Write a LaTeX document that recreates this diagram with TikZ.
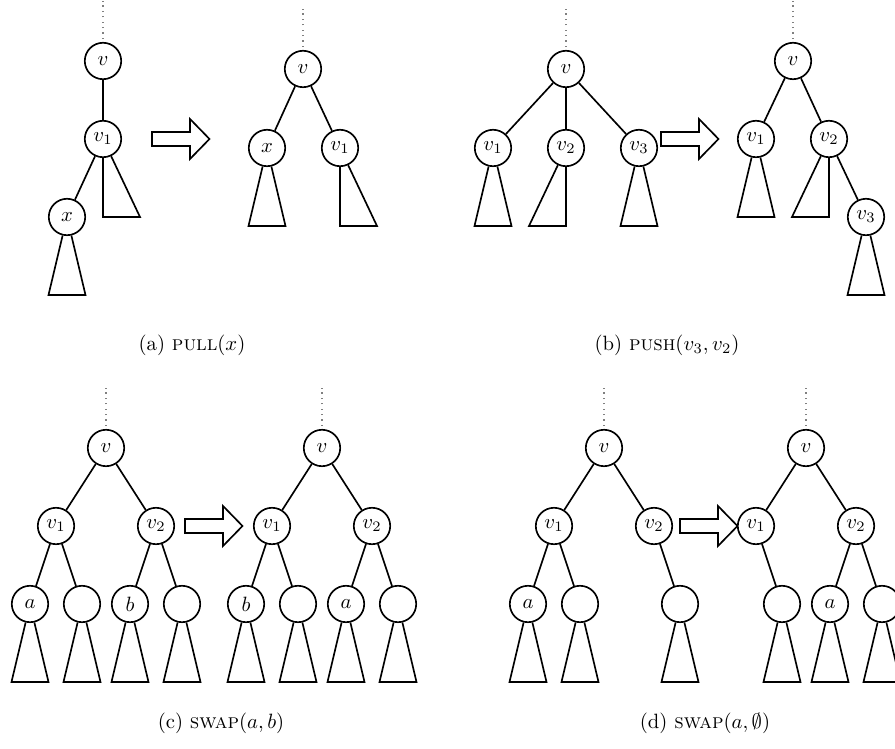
\documentclass[tikz,border=0pt]{standalone}
\usetikzlibrary{calc}

% subtrees hanging below a vertex
\newcommand\isotree[1]{\draw[tedge] (#1) -- ($(#1)+(-18.5,78)$) -- ($(#1)+(18.5,78)$) -- (#1);}
\newcommand\rtree[1]{\draw[tedge] (#1) -- ($(#1)+(0,78)$) -- ($(#1)+(37,78)$) -- (#1);}
\newcommand\ltree[1]{\draw[tedge] (#1) -- ($(#1)+(0,78)$) -- ($(#1)+(-37,78)$) -- (#1);}
% dotted link to the rest of the tree above a vertex
\newcommand\uplink[1]{\coordinate (#1-up) at ($(#1.north)+(0,-41)$);
  \draw[updots] ($(#1.north)+(0,-3)$) -- (#1-up);}
% hollow block arrow, #1,#2 = left end of the shaft
\newcommand\fatarrow[2]{\draw[tedge] (#1,#2) ++(0,-7) -- ++(38,0) -- ++(0,-13)
  -- ++(19.5,20) -- ++(-19.5,20) -- ++(0,-13) -- ++(-38,0) -- cycle;}

\begin{document}
\begin{tikzpicture}[x=0.4832pt,y=-0.4832pt,
  tn/.style={circle,draw,fill=white,minimum size=17.6pt,inner sep=0pt,line width=0.8pt},
  tedge/.style={line width=0.8pt,line join=miter},
  updots/.style={dotted,gray,line width=0.6pt},
  captext/.style={inner sep=0pt}]
\path[use as bounding box] (0,0) rectangle (895,749);
\clip (0,0) rectangle (895,749);

% ---------- (a) pull(x) ----------
\node[tn] (a1v)  at (103,61)  {$v$};
\node[tn] (a1v1) at (103,139) {$v_1$};
\node[tn] (a1x)  at (67,217)  {$x$};
\uplink{a1v}
\draw[tedge] (a1v) -- (a1v1);
\draw[tedge] (a1v1) -- (a1x);
\isotree{a1x}
\rtree{a1v1}

\fatarrow{152}{139}

\node[tn] (a2v)  at (303,69)  {$v$};
\node[tn] (a2x)  at (267,148) {$x$};
\node[tn] (a2v1) at (340,148) {$v_1$};
\uplink{a2v}
\draw[tedge] (a2v) -- (a2x);
\draw[tedge] (a2v) -- (a2v1);
\isotree{a2x}
\rtree{a2v1}

\node[captext] (capa) at (192,345) {(a) \textsc{pull}($x$)};

% ---------- (b) push(v3,v2) ----------
\node[tn] (b1v)  at (566,69)  {$v$};
\node[tn] (b1v1) at (493,148) {$v_1$};
\node[tn] (b1v2) at (566,148) {$v_2$};
\node[tn] (b1v3) at (639,148) {$v_3$};
\uplink{b1v}
\draw[tedge] (b1v) -- (b1v1);
\draw[tedge] (b1v) -- (b1v2);
\draw[tedge] (b1v) -- (b1v3);
\isotree{b1v1}
\ltree{b1v2}
\isotree{b1v3}

\fatarrow{661}{139}

\node[tn] (b2v)  at (793,61)  {$v$};
\node[tn] (b2v1) at (756,139) {$v_1$};
\node[tn] (b2v2) at (829,139) {$v_2$};
\node[tn] (b2v3) at (866,217) {$v_3$};
\uplink{b2v}
\draw[tedge] (b2v) -- (b2v1);
\draw[tedge] (b2v) -- (b2v2);
\draw[tedge] (b2v2) -- (b2v3);
\isotree{b2v1}
\ltree{b2v2}
\isotree{b2v3}

\node[captext] (capb) at (667,345) {(b) \textsc{push}($v_3, v_2$)};

% ---------- (c) swap(a,b) ----------
\node[tn] (c1v)  at (106,448) {$v$};
\node[tn] (c1v1) at (56,526)  {$v_1$};
\node[tn] (c1v2) at (156,526) {$v_2$};
\node[tn] (c1a)  at (30,604)  {$a$};
\node[tn] (c1e1) at (82,604)  {};
\node[tn] (c1b)  at (130,604) {$b$};
\node[tn] (c1e2) at (182,604) {};
\uplink{c1v}
\draw[tedge] (c1v) -- (c1v1);
\draw[tedge] (c1v) -- (c1v2);
\draw[tedge] (c1v1) -- (c1a);
\draw[tedge] (c1v1) -- (c1e1);
\draw[tedge] (c1v2) -- (c1b);
\draw[tedge] (c1v2) -- (c1e2);
\isotree{c1a}
\isotree{c1e1}
\isotree{c1b}
\isotree{c1e2}

\fatarrow{185}{526}

\node[tn] (c2v)  at (322,448) {$v$};
\node[tn] (c2v1) at (272,526) {$v_1$};
\node[tn] (c2v2) at (372,526) {$v_2$};
\node[tn] (c2b)  at (246,604) {$b$};
\node[tn] (c2e1) at (298,604) {};
\node[tn] (c2a)  at (346,604) {$a$};
\node[tn] (c2e2) at (398,604) {};
\uplink{c2v}
\draw[tedge] (c2v) -- (c2v1);
\draw[tedge] (c2v) -- (c2v2);
\draw[tedge] (c2v1) -- (c2b);
\draw[tedge] (c2v1) -- (c2e1);
\draw[tedge] (c2v2) -- (c2a);
\draw[tedge] (c2v2) -- (c2e2);
\isotree{c2b}
\isotree{c2e1}
\isotree{c2a}
\isotree{c2e2}

\node[captext] (capc) at (221,723) {(c) \textsc{swap}($a, b$)};

% ---------- (d) swap(a,emptyset) ----------
\node[tn] (d1v)  at (604,448) {$v$};
\node[tn] (d1v1) at (554,526) {$v_1$};
\node[tn] (d1v2) at (654,526) {$v_2$};
\node[tn] (d1a)  at (528,604) {$a$};
\node[tn] (d1e1) at (580,604) {};
\node[tn] (d1e2) at (680,604) {};
\uplink{d1v}
\draw[tedge] (d1v) -- (d1v1);
\draw[tedge] (d1v) -- (d1v2);
\draw[tedge] (d1v1) -- (d1a);
\draw[tedge] (d1v1) -- (d1e1);
\draw[tedge] (d1v2) -- (d1e2);
\isotree{d1a}
\isotree{d1e1}
\isotree{d1e2}

\fatarrow{680}{526}

\node[tn] (d2v)  at (806,448) {$v$};
\node[tn] (d2v1) at (756,526) {$v_1$};
\node[tn] (d2v2) at (856,526) {$v_2$};
\node[tn] (d2e1) at (782,604) {};
\node[tn] (d2a)  at (830,604) {$a$};
\node[tn] (d2e2) at (882,604) {};
\uplink{d2v}
\draw[tedge] (d2v) -- (d2v1);
\draw[tedge] (d2v) -- (d2v2);
\draw[tedge] (d2v1) -- (d2e1);
\draw[tedge] (d2v2) -- (d2a);
\draw[tedge] (d2v2) -- (d2e2);
\isotree{d2e1}
\isotree{d2a}
\isotree{d2e2}

\node[captext] (capd) at (705,723) {(d) \textsc{swap}($a, \emptyset$)};
\end{tikzpicture}
\end{document}
